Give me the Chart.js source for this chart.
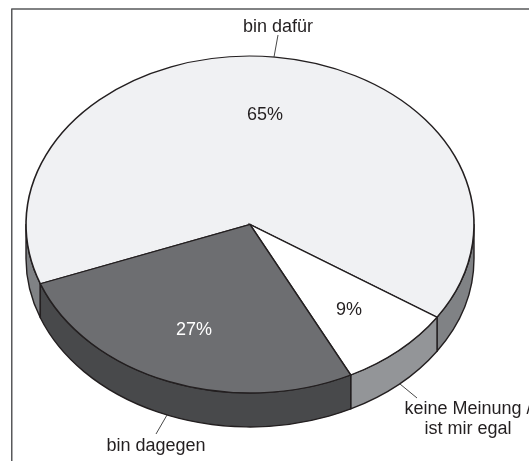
<!DOCTYPE html>
<html><head><meta charset="utf-8">
<style>html,body{margin:0;padding:0;background:#fff;overflow:hidden}canvas{display:block}</style>
<script src="https://cdn.jsdelivr.net/npm/chart.js@4/dist/chart.umd.min.js"></script>
</head><body>
<canvas id="c" width="529" height="461"></canvas>
<script>
const categories = ['bin dafür', 'keine Meinung / ist mir egal', 'bin dagegen'];
const sliceValues = [65, 8.3, 26.7];
const percentText = ['65%', '9%', '27%'];
const topColors = ['#f0f1f3', '#ffffff', '#6d6e71'];
const sideColors = ['#808285', '#939598', '#48494b'];
const percentColors = ['#231f20', '#231f20', '#ffffff'];
const INK = '#231f20';
const SQUASH = 0.752, DEPTH = 34, CY = 224.5;

const pie3d = {
  id: 'pie3d',
  beforeDatasetDraw(chart, args) {
    const ctx = chart.ctx, arcs = chart.getDatasetMeta(args.index).data;
    const TAU = Math.PI * 2;
    // wall: the front half of each slice's rim, extruded downward
    arcs.forEach((a, i) => {
      const R = a.outerRadius, ry = R * SQUASH;
      for (let turn = -1; turn <= 2; turn++) {
        const from = Math.max(a.startAngle, turn * TAU);
        const to = Math.min(a.endAngle, turn * TAU + Math.PI);
        if (to <= from) continue;
        ctx.beginPath();
        ctx.ellipse(a.x, CY, R, ry, 0, from, to);
        ctx.ellipse(a.x, CY + DEPTH, R, ry, 0, to, from, true);
        ctx.closePath();
        ctx.fillStyle = sideColors[i];
        ctx.fill();
        ctx.strokeStyle = INK;
        ctx.lineWidth = 1.4;
        ctx.lineJoin = 'round';
        ctx.stroke();
      }
    });
    // tilt the top face
    ctx.save();
    ctx.translate(arcs[0].x, CY);
    ctx.scale(1, SQUASH);
    ctx.translate(-arcs[0].x, -arcs[0].y);
  },
  afterDatasetDraw(chart) { chart.ctx.restore(); },
  afterDraw(chart) {
    const ctx = chart.ctx;
    ctx.save();
    // frame
    ctx.strokeStyle = '#58595b'; ctx.lineWidth = 1.5;
    ctx.beginPath(); ctx.moveTo(11.75, 461); ctx.lineTo(11.75, 9); ctx.lineTo(529, 9); ctx.stroke();
    // leaders
    ctx.strokeStyle = '#333'; ctx.lineWidth = 0.9;
    [[274, 57, 278, 35], [400, 384, 417, 398], [167, 415, 156, 434]].forEach(l => {
      ctx.beginPath(); ctx.moveTo(l[0], l[1]); ctx.lineTo(l[2], l[3]); ctx.stroke();
    });
    // text
    ctx.font = '18px "Liberation Sans", Arial, sans-serif';
    ctx.textBaseline = 'alphabetic';
    ctx.textAlign = 'center';
    ctx.fillStyle = percentColors[0]; ctx.fillText(percentText[0], 265, 120);
    ctx.fillStyle = percentColors[1]; ctx.fillText(percentText[1], 349, 315);
    ctx.fillStyle = percentColors[2]; ctx.fillText(percentText[2], 194, 335);
    ctx.fillStyle = INK;
    ctx.fillText(categories[0], 278, 32);
    ctx.fillText('keine Meinung /', 468, 414);
    ctx.fillText('ist mir egal', 468, 434);
    ctx.fillText(categories[2], 156, 451);
    ctx.restore();
  }
};
new Chart(document.getElementById('c'), {
  type: 'pie',
  data: {
    labels: categories,
    datasets: [{
      data: sliceValues,
      backgroundColor: topColors,
      borderColor: INK,
      borderWidth: 1.6,
      borderAlign: 'center',
      borderJoinStyle: 'miter',
      clip: false
    }]
  },
  options: {
    responsive: false,
    animation: false,
    rotation: 249.4,
    radius: 224,
    layout: {padding: {left: 26, right: 55, top: 0, bottom: 13}},
    plugins: {legend: {display: false}, tooltip: {enabled: false}, title: {display: false}},
    events: []
  },
  plugins: [pie3d]
});
</script>
</body></html>
